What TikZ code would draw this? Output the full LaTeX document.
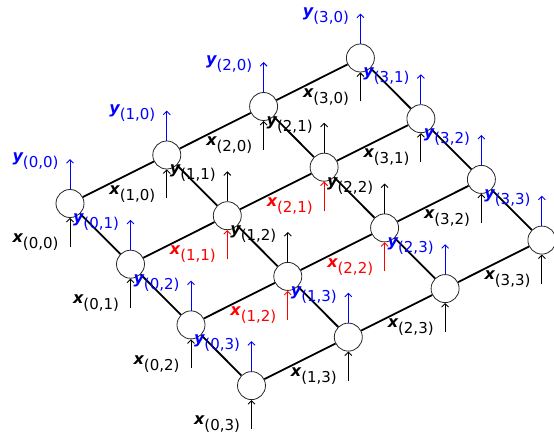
\documentclass[tikz,border=0pt]{standalone}
\usepackage{fontspec}
\setmainfont{DejaVu Sans}
\usetikzlibrary{arrows.meta, positioning}

\newcommand{\varlab}[2]{{\fontsize{16}{16}\selectfont\bfseries\itshape #1}\raisebox{-6pt}{\fontsize{15}{15}\selectfont(#2)}}

\begin{document}
\begin{tikzpicture}[
    x = {(96.8pt,48.5pt)},
    y = {(60.5pt,-60.7pt)},
    cell/.style = {circle, draw=black!85, fill=white, minimum size=28pt,
                   inner sep=0pt, line width=0.8pt},
    link/.style = {line width=1.8pt},
    sig/.style  = {-{Straight Barb[length=3.5pt,width=7pt]}, line width=0.9pt},
    xlab/.style = {anchor=base east, inner sep=0pt, xshift=-11pt, yshift=4.3pt},
    ylab/.style = {anchor=base east, inner sep=0pt, xshift=-11pt, yshift=-2.5pt},
]
\useasboundingbox (-70pt,203.5pt) rectangle (484pt,-230.5pt);

\foreach \i in {0,...,3}
  \foreach \j in {0,...,3}
    \node[cell] (n\i\j) at (\i,\j) {};

\foreach \i in {0,...,3}
  \foreach \j [count=\k] in {0,1,2} {
    \draw[link] (n\i\j) -- (n\i\k);
    \draw[link] (n\j\i) -- (n\k\i);
  }

\foreach \i/\j/\ic/\oc in {0/0/black/blue, 1/0/black/blue, 2/0/black/blue, 3/0/black/blue,
                           0/1/black/blue, 1/1/red/black,  2/1/red/black,  3/1/black/blue,
                           0/2/black/blue, 1/2/red/black,  2/2/red/black,  3/2/black/blue,
                           0/3/black/blue, 1/3/black/blue, 2/3/black/blue, 3/3/black/blue} {
  \coordinate[below=29pt of n\i\j] (in\i\j);
  \coordinate[above=30pt of n\i\j] (out\i\j);
  \draw[sig, \ic] (in\i\j) node[xlab] {\varlab{x}{\i,\j}} -- (n\i\j);
  \draw[sig, \oc] (n\i\j) -- (out\i\j) node[ylab] {\varlab{y}{\i,\j}};
}

\end{tikzpicture}
\end{document}
